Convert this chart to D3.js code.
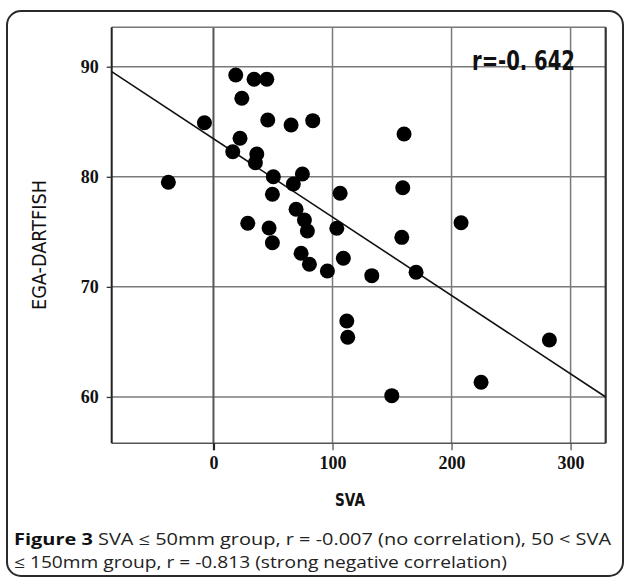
<!DOCTYPE html>
<html>
<head>
<meta charset="utf-8">
<script src="https://cdn.jsdelivr.net/npm/d3@7"></script>
<style>
  html, body { margin: 0; padding: 0; background: #fff; }
  svg { display: block; }
</style>
</head>
<body>
<svg id="chart" width="624" height="577"></svg>
<script>
// ---- Data ----
const svaValues = [18.7, 34.1, 44.8, 23.8, -7.6, 45.6, 65.2, 83.4, 22.3, 16.2,
                   36.4, 35.2, -37.9, 50.3, 74.7, 67.1, 49.5, 106.4, 69.4, 76.4,
                   78.9, 103.6, 28.8, 46.7, 49.5, 73.6, 80.6, 95.7, 109.1, 160.1,
                   159.0, 208.0, 158.2, 133.0, 170.2, 112.0, 112.8, 282.2, 224.8, 149.8];
const egaValues = [89.25, 88.86, 88.86, 87.13, 84.91, 85.16, 84.70, 85.10, 83.50, 82.28,
                   82.07, 81.28, 79.50, 80.01, 80.25, 79.35, 78.41, 78.50, 77.05, 76.08,
                   75.08, 75.32, 75.78, 75.35, 74.01, 73.05, 72.05, 71.44, 72.60, 83.89,
                   79.01, 75.83, 74.50, 71.02, 71.33, 66.90, 65.42, 65.18, 61.34, 60.12];
const xTicks = [0, 100, 200, 300];
const yTicks = [60, 70, 80, 90];
const regression = { slope: -0.0712, intercept: 83.46 };
const rLabel = "r=-0. 642";
const xTitle = "SVA";
const yTitle = "EGA-DARTFISH";
const captionBold = "Figure 3";
const captionLine1 = " SVA \u2264 50mm group, r = -0.007 (no correlation), 50 < SVA";
const captionLine2 = "\u2264 150mm group, r = -0.813 (strong negative correlation)";

// ---- Layout ----
const svg = d3.select("#chart");
const plot = { left: 111.7, right: 605.7, top: 27.3, bottom: 443.3 };
const x = d3.scaleLinear().domain([-85.5, 329.5]).range([plot.left, plot.right]);
const y = d3.scaleLinear().domain([55.79, 93.58]).range([plot.bottom, plot.top]);

// outer rounded frame
svg.append("rect")
  .attr("x", 7).attr("y", 11).attr("width", 616).attr("height", 565)
  .attr("rx", 14).attr("ry", 14)
  .attr("fill", "none").attr("stroke", "#2a2a2a").attr("stroke-width", 2);

const g = svg.append("g");

// horizontal gridlines
g.selectAll(".hgrid").data(yTicks).enter().append("line")
  .attr("x1", plot.left).attr("x2", plot.right)
  .attr("y1", d => y(d)).attr("y2", d => y(d))
  .attr("stroke", "#7a7a7a").attr("stroke-width", 1.5);

// vertical gridlines
g.selectAll(".vgrid").data(xTicks).enter().append("line")
  .attr("x1", d => x(d)).attr("x2", d => x(d))
  .attr("y1", plot.top).attr("y2", plot.bottom)
  .attr("stroke", d => d === 0 ? "#555" : "#7a7a7a")
  .attr("stroke-width", d => d === 0 ? 2 : 1.5);

// plot border
g.append("line").attr("x1", plot.left).attr("x2", plot.right).attr("y1", plot.top).attr("y2", plot.top)
  .attr("stroke", "#777").attr("stroke-width", 1.5);
g.append("line").attr("x1", plot.left).attr("x2", plot.right).attr("y1", plot.bottom).attr("y2", plot.bottom)
  .attr("stroke", "#555").attr("stroke-width", 1.5);
g.append("line").attr("x1", plot.left).attr("x2", plot.left).attr("y1", plot.top).attr("y2", plot.bottom)
  .attr("stroke", "#222").attr("stroke-width", 2);
g.append("line").attr("x1", plot.right).attr("x2", plot.right).attr("y1", plot.top).attr("y2", plot.bottom)
  .attr("stroke", "#333").attr("stroke-width", 2.2);

// axes (ticks + labels) via d3 axes
const yAxis = d3.axisLeft(y).tickValues(yTicks).tickSize(5).tickPadding(8).tickFormat(d3.format("d"));
const yg = svg.append("g").attr("transform", `translate(${plot.left},0)`).call(yAxis);
yg.select(".domain").remove();
yg.selectAll(".tick line").attr("stroke", "#333").attr("stroke-width", 1.3);
yg.selectAll(".tick text")
  .attr("font-family", "'Liberation Serif', serif").attr("font-weight", "bold")
  .attr("font-size", 18).attr("fill", "#111");

const xAxis = d3.axisBottom(x).tickValues(xTicks).tickSize(7).tickPadding(6).tickFormat(d3.format("d"));
const xg = svg.append("g").attr("transform", `translate(0,${plot.bottom})`).call(xAxis);
xg.select(".domain").remove();
xg.selectAll(".tick line").attr("stroke", d => d === 0 ? "#222" : "#555")
  .attr("stroke-width", d => d === 0 ? 2.2 : 1.3);
xg.selectAll(".tick text")
  .attr("font-family", "'Liberation Serif', serif").attr("font-weight", "bold")
  .attr("font-size", 18).attr("fill", "#111");

// regression line
const xd = x.domain();
g.append("line")
  .attr("x1", x(xd[0])).attr("y1", y(regression.intercept + regression.slope * xd[0]))
  .attr("x2", x(xd[1])).attr("y2", y(regression.intercept + regression.slope * xd[1]))
  .attr("stroke", "#111").attr("stroke-width", 1.6);

// points
const pts = svaValues.map((v, i) => ({ x: v, y: egaValues[i] }));
g.selectAll(".pt").data(pts).enter().append("circle")
  .attr("cx", d => x(d.x)).attr("cy", d => y(d.y)).attr("r", 7.5)
  .attr("fill", "#000");

// r label
svg.append("text")
  .attr("x", 472).attr("y", 70)
  .attr("font-family", "'DejaVu Sans', sans-serif").attr("font-weight", "bold")
  .attr("font-size", 26).attr("fill", "#111")
  .attr("textLength", 103).attr("lengthAdjust", "spacingAndGlyphs")
  .text(rLabel);

// axis titles
svg.append("text")
  .attr("x", 350).attr("y", 506).attr("text-anchor", "middle")
  .attr("font-family", "'DejaVu Sans', sans-serif").attr("font-weight", "bold")
  .attr("font-size", 17).attr("fill", "#111")
  .attr("textLength", 30).attr("lengthAdjust", "spacingAndGlyphs")
  .text(xTitle);

svg.append("text")
  .attr("transform", "translate(46,245) rotate(-90)")
  .attr("text-anchor", "middle")
  .attr("font-family", "'DejaVu Sans', sans-serif")
  .attr("font-size", 20).attr("fill", "#111")
  .attr("textLength", 130).attr("lengthAdjust", "spacingAndGlyphs")
  .text(yTitle);

// caption
const cap1 = svg.append("text")
  .attr("x", 14).attr("y", 545)
  .attr("font-family", "'Open Sans', sans-serif")
  .attr("font-size", 16).attr("fill", "#222")
  .attr("textLength", 597).attr("lengthAdjust", "spacingAndGlyphs");
cap1.append("tspan").attr("font-weight", "bold").attr("fill", "#111").text(captionBold);
cap1.append("tspan").text(captionLine1);

svg.append("text")
  .attr("x", 14).attr("y", 568)
  .attr("font-family", "'Open Sans', sans-serif")
  .attr("font-size", 16).attr("fill", "#222")
  .attr("textLength", 493).attr("lengthAdjust", "spacingAndGlyphs")
  .text(captionLine2);
</script>
</body>
</html>
